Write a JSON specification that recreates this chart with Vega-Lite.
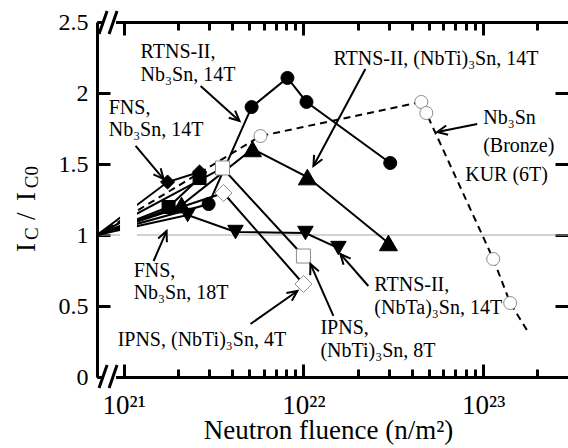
{
  "$schema": "https://vega.github.io/schema/vega-lite/v6.json",
  "width": 471,
  "height": 355,
  "autosize": {"type": "none"},
  "padding": {"left": 97, "top": 22, "right": 0, "bottom": 71},
  "config": {
    "view": {"stroke": null},
    "font": "Liberation Serif",
    "axis": {"grid": false, "domainColor": "black", "tickColor": "black", "domainWidth": 3, "tickWidth": 3, "labelFont": "Liberation Serif", "titleFont": "Liberation Serif", "labelColor": "black", "titleColor": "black", "titleFontWeight": "normal"},
    "text": {"font": "Liberation Serif"}
  },
  "datasets": {
    "series": [
      {"s": "RTNS-II Nb3Sn 14T", "x": 7.11e20, "y": 1, "m": false},
      {"s": "RTNS-II Nb3Sn 14T", "x": 2.97e21, "y": 1.218, "m": true},
      {"s": "RTNS-II Nb3Sn 14T", "x": 5.15e21, "y": 1.901, "m": true},
      {"s": "RTNS-II Nb3Sn 14T", "x": 8.15e21, "y": 2.106, "m": true},
      {"s": "RTNS-II Nb3Sn 14T", "x": 1.04e22, "y": 1.937, "m": true},
      {"s": "RTNS-II Nb3Sn 14T", "x": 3.04e22, "y": 1.507, "m": true},
      {"s": "RTNS-II (NbTi)3Sn 14T", "x": 7.11e20, "y": 1, "m": false},
      {"s": "RTNS-II (NbTi)3Sn 14T", "x": 2.10e21, "y": 1.211, "m": true},
      {"s": "RTNS-II (NbTi)3Sn 14T", "x": 5.21e21, "y": 1.606, "m": true},
      {"s": "RTNS-II (NbTi)3Sn 14T", "x": 1.052e22, "y": 1.408, "m": true},
      {"s": "RTNS-II (NbTi)3Sn 14T", "x": 2.97e22, "y": 0.944, "m": true},
      {"s": "RTNS-II (NbTa)3Sn 14T", "x": 7.11e20, "y": 1, "m": false},
      {"s": "RTNS-II (NbTa)3Sn 14T", "x": 2.27e21, "y": 1.141, "m": true},
      {"s": "RTNS-II (NbTa)3Sn 14T", "x": 4.19e21, "y": 1.021, "m": true},
      {"s": "RTNS-II (NbTa)3Sn 14T", "x": 1.026e22, "y": 1.014, "m": true},
      {"s": "RTNS-II (NbTa)3Sn 14T", "x": 1.565e22, "y": 0.908, "m": true},
      {"s": "FNS Nb3Sn 14T", "x": 7.11e20, "y": 1, "m": false},
      {"s": "FNS Nb3Sn 14T", "x": 1.755e21, "y": 1.373, "m": true},
      {"s": "FNS Nb3Sn 14T", "x": 2.644e21, "y": 1.444, "m": true},
      {"s": "FNS Nb3Sn 18T", "x": 7.11e20, "y": 1, "m": false},
      {"s": "FNS Nb3Sn 18T", "x": 1.778e21, "y": 1.197, "m": true},
      {"s": "FNS Nb3Sn 18T", "x": 2.644e21, "y": 1.401, "m": true},
      {"s": "IPNS (NbTi)3Sn 8T", "x": 7.11e20, "y": 1, "m": false},
      {"s": "IPNS (NbTi)3Sn 8T", "x": 3.548e21, "y": 1.472, "m": true},
      {"s": "IPNS (NbTi)3Sn 8T", "x": 1.0e22, "y": 0.852, "m": true},
      {"s": "IPNS (NbTi)3Sn 4T", "x": 7.11e20, "y": 1, "m": false},
      {"s": "IPNS (NbTi)3Sn 4T", "x": 3.594e21, "y": 1.296, "m": true},
      {"s": "IPNS (NbTi)3Sn 4T", "x": 1.0e22, "y": 0.655, "m": true},
      {"s": "KUR Nb3Sn Bronze 6T", "x": 7.11e20, "y": 1, "m": false},
      {"s": "KUR Nb3Sn Bronze 6T", "x": 5.77e21, "y": 1.697, "m": true},
      {"s": "KUR Nb3Sn Bronze 6T", "x": 4.526e22, "y": 1.937, "m": true},
      {"s": "KUR Nb3Sn Bronze 6T", "x": 4.825e22, "y": 1.859, "m": true},
      {"s": "KUR Nb3Sn Bronze 6T", "x": 1.137e23, "y": 0.831, "m": true},
      {"s": "KUR Nb3Sn Bronze 6T", "x": 1.413e23, "y": 0.521, "m": true},
      {"s": "KUR Nb3Sn Bronze 6T", "x": 1.778e23, "y": 0.317, "m": false}
    ],
    "gaps": [
      {"x": 9.55e20, "x2": 1.187e21, "y": 0.9, "y2": 1.45},
      {"x": 7.59e20, "x2": 9.07e20, "y": -0.04, "y2": 0.04},
      {"x": 7.59e20, "x2": 9.07e20, "y": 2.46, "y2": 2.54}
    ],
    "breaks": [
      {"x": 7.30e20, "y": -0.0775, "x2": 8.09e20, "y2": 0.0845},
      {"x": 8.30e20, "y": -0.0775, "x2": 9.19e20, "y2": 0.0845},
      {"x": 7.30e20, "y": 2.415, "x2": 8.09e20, "y2": 2.577},
      {"x": 8.30e20, "y": 2.415, "x2": 9.19e20, "y2": 2.577}
    ],
    "arrows": [
      {"id": "a", "x": 2.68e21, "y": 2.049, "xe": 4.41e21, "ye": 1.803},
      {"id": "b", "x": 1.166e21, "y": 1.627, "xe": 1.668e21, "ye": 1.394},
      {"id": "c", "x": 2.211e22, "y": 2.169, "xe": 1.137e22, "ye": 1.486},
      {"id": "d", "x": 9.26e22, "y": 1.782, "xe": 5.55e22, "ye": 1.725},
      {"id": "e", "x": 1.468e21, "y": 0.817, "xe": 1.733e21, "ye": 1.028},
      {"id": "f", "x": 5.076e21, "y": 0.373, "xe": 9.26e21, "ye": 0.606},
      {"id": "g", "x": 1.468e22, "y": 0.43, "xe": 1.094e22, "ye": 0.796},
      {"id": "h", "x": 2.297e22, "y": 0.641, "xe": 1.606e22, "ye": 0.866}
    ],
    "notes": [
      {"x": 1.243e21, "y": 2.246, "t": "RTNS-II,"},
      {"x": 1.243e21, "y": 2.085, "t": "Nb₃Sn, 14T"},
      {"x": 8.26e20, "y": 1.852, "t": "FNS,"},
      {"x": 8.26e20, "y": 1.697, "t": "Nb₃Sn, 14T"},
      {"x": 1.468e22, "y": 2.197, "t": "RTNS-II, (NbTi)₃Sn, 14T"},
      {"x": 1.0e23, "y": 1.782, "t": "Nb₃Sn"},
      {"x": 1.0e23, "y": 1.585, "t": "(Bronze)"},
      {"x": 7.94e22, "y": 1.38, "t": "KUR (6T)"},
      {"x": 1.137e21, "y": 0.704, "t": "FNS,"},
      {"x": 1.137e21, "y": 0.549, "t": "Nb₃Sn, 18T"},
      {"x": 9.26e20, "y": 0.218, "t": "IPNS, (NbTi)₃Sn, 4T"},
      {"x": 1.243e22, "y": 0.303, "t": "IPNS,"},
      {"x": 1.243e22, "y": 0.141, "t": "(NbTi)₃Sn, 8T"},
      {"x": 2.48e22, "y": 0.606, "t": "RTNS-II,"},
      {"x": 2.48e22, "y": 0.444, "t": "(NbTa)₃Sn, 14T"}
    ],
    "ytitle": [
      {"t": "I", "x": 3.21e20, "y": 0.88, "sub": false},
      {"t": "C", "x": 3.33e20, "y": 0.965, "sub": true},
      {"t": "/", "x": 3.21e20, "y": 1.105, "sub": false},
      {"t": "I", "x": 3.21e20, "y": 1.239, "sub": false},
      {"t": "C0", "x": 3.33e20, "y": 1.33, "sub": true}
    ]
  },
  "resolve": {"axis": {"x": "independent", "y": "independent"}, "scale": {"shape": "independent", "size": "independent", "fill": "independent", "stroke": "independent"}},
  "layer": [
    {
      "data": {"values": [{}]},
      "mark": {"type": "rule", "color": "#a6a6a6", "strokeWidth": 1},
      "encoding": {
        "y": {"datum": 1, "type": "quantitative", "scale": {"domain": [0, 2.5], "nice": false, "zero": false}, "axis": null}
      }
    },
    {
      "data": {"name": "series"},
      "transform": [{"filter": "datum.s != 'KUR Nb3Sn Bronze 6T'"}],
      "mark": {"type": "line", "color": "black", "strokeWidth": 2},
      "encoding": {
        "x": {"field": "x", "type": "quantitative", "scale": {"type": "log", "domain": [7.11e20, 2.962e23], "nice": false},
          "axis": {"orient": "bottom", "values": [1e21, 1e22, 1e23], "tickSize": -13, "labelPadding": 49, "labelBaseline": "alphabetic", "labelFontSize": 27, "labelFlush": false, "labelOverlap": false,
            "labelExpr": "'10' + (datum.value < 5e21 ? '²¹' : (datum.value < 5e22 ? '²²' : '²³'))",
            "title": "Neutron fluence (n/m²)", "titleFontSize": 27, "titleX": 231, "titleY": 61, "titleAlign": "center", "titleBaseline": "alphabetic"}},
        "y": {"field": "y", "type": "quantitative", "scale": {"domain": [0, 2.5], "nice": false, "zero": false},
          "axis": {"orient": "left", "values": [0, 0.5, 1, 1.5, 2, 2.5], "format": ".1~f", "tickSize": -13, "labelPadding": 22, "labelFontSize": 24, "title": null}},
        "detail": {"field": "s"}
      }
    },
    {
      "data": {"name": "series"},
      "transform": [{"filter": "datum.s == 'KUR Nb3Sn Bronze 6T'"}],
      "mark": {"type": "line", "color": "black", "strokeWidth": 2, "strokeDash": [7, 5]},
      "encoding": {
        "x": {"field": "x", "type": "quantitative", "scale": {"type": "log", "domain": [7.11e20, 2.962e23], "nice": false},
          "axis": {"orient": "bottom", "values": [2e21, 3e21, 4e21, 5e21, 6e21, 7e21, 8e21, 9e21, 2e22, 3e22, 4e22, 5e22, 6e22, 7e22, 8e22, 9e22, 2e23], "tickSize": -8, "labels": false, "domain": false, "title": null}},
        "y": {"field": "y", "type": "quantitative", "scale": {"domain": [0, 2.5], "nice": false, "zero": false},
          "axis": {"orient": "right", "values": [0.5, 1, 1.5, 2], "tickSize": -13, "labels": false, "domain": false, "title": null}}
      }
    },
    {
      "data": {"name": "gaps"},
      "mark": {"type": "rect", "color": "white"},
      "encoding": {
        "x": {"field": "x", "type": "quantitative", "scale": {"type": "log", "domain": [7.11e20, 2.962e23], "nice": false}, "axis": null},
        "x2": {"field": "x2"},
        "y": {"field": "y", "type": "quantitative", "scale": {"domain": [0, 2.5], "nice": false, "zero": false}, "axis": null},
        "y2": {"field": "y2"}
      }
    },
    {
      "data": {"name": "breaks"},
      "mark": {"type": "rule", "color": "black", "strokeWidth": 3},
      "encoding": {
        "x": {"field": "x", "type": "quantitative", "scale": {"type": "log", "domain": [7.11e20, 2.962e23], "nice": false}, "axis": null},
        "x2": {"field": "x2"},
        "y": {"field": "y", "type": "quantitative", "scale": {"domain": [0, 2.5], "nice": false, "zero": false}, "axis": null},
        "y2": {"field": "y2"}
      }
    },
    {
      "data": {"name": "series"},
      "transform": [{"filter": "datum.m"}],
      "mark": {"type": "point", "filled": true, "opacity": 1, "strokeWidth": 1},
      "encoding": {
        "x": {"field": "x", "type": "quantitative", "scale": {"type": "log", "domain": [7.11e20, 2.962e23], "nice": false},
          "axis": {"orient": "top", "values": [1e21, 1e22, 1e23], "tickSize": -13, "labels": false, "domain": true, "title": null}},
        "y": {"field": "y", "type": "quantitative", "scale": {"domain": [0, 2.5], "nice": false, "zero": false}, "axis": null},
        "shape": {"field": "s", "type": "nominal", "legend": null, "scale": {
          "domain": ["RTNS-II Nb3Sn 14T", "RTNS-II (NbTi)3Sn 14T", "RTNS-II (NbTa)3Sn 14T", "FNS Nb3Sn 14T", "FNS Nb3Sn 18T", "IPNS (NbTi)3Sn 8T", "IPNS (NbTi)3Sn 4T", "KUR Nb3Sn Bronze 6T"],
          "range": ["circle", "triangle-up", "triangle-down", "diamond", "square", "square", "diamond", "circle"]}},
        "fill": {"field": "s", "type": "nominal", "legend": null, "scale": {
          "domain": ["RTNS-II Nb3Sn 14T", "RTNS-II (NbTi)3Sn 14T", "RTNS-II (NbTa)3Sn 14T", "FNS Nb3Sn 14T", "FNS Nb3Sn 18T", "IPNS (NbTi)3Sn 8T", "IPNS (NbTi)3Sn 4T", "KUR Nb3Sn Bronze 6T"],
          "range": ["black", "black", "black", "black", "black", "white", "white", "white"]}},
        "stroke": {"field": "s", "type": "nominal", "legend": null, "scale": {
          "domain": ["RTNS-II Nb3Sn 14T", "RTNS-II (NbTi)3Sn 14T", "RTNS-II (NbTa)3Sn 14T", "FNS Nb3Sn 14T", "FNS Nb3Sn 18T", "IPNS (NbTi)3Sn 8T", "IPNS (NbTi)3Sn 4T", "KUR Nb3Sn Bronze 6T"],
          "range": ["black", "black", "black", "black", "black", "#8c8c8c", "#8c8c8c", "#8c8c8c"]}},
        "size": {"field": "s", "type": "nominal", "legend": null, "scale": {"type": "ordinal",
          "domain": ["RTNS-II Nb3Sn 14T", "RTNS-II (NbTi)3Sn 14T", "RTNS-II (NbTa)3Sn 14T", "FNS Nb3Sn 14T", "FNS Nb3Sn 18T", "IPNS (NbTi)3Sn 8T", "IPNS (NbTi)3Sn 4T", "KUR Nb3Sn Bronze 6T"],
          "range": [169, 324, 240, 200, 169, 196, 289, 169]}}
      }
    },
    {
      "data": {"name": "arrows"},
      "mark": {"type": "rule", "color": "black", "strokeWidth": 2},
      "encoding": {
        "x": {"field": "x", "type": "quantitative", "scale": {"type": "log", "domain": [7.11e20, 2.962e23], "nice": false},
          "axis": {"orient": "top", "values": [2e21, 3e21, 4e21, 5e21, 6e21, 7e21, 8e21, 9e21, 2e22, 3e22, 4e22, 5e22, 6e22, 7e22, 8e22, 9e22, 2e23], "tickSize": -8, "labels": false, "domain": false, "title": null}},
        "x2": {"field": "xe"},
        "y": {"field": "y", "type": "quantitative", "scale": {"domain": [0, 2.5], "nice": false, "zero": false}, "axis": null},
        "y2": {"field": "ye"}
      }
    },
    {
      "data": {"name": "arrows"},
      "mark": {"type": "point", "filled": false, "color": "black", "strokeWidth": 2, "size": 500, "opacity": 1},
      "encoding": {
        "x": {"field": "xe", "type": "quantitative", "scale": {"type": "log", "domain": [7.11e20, 2.962e23], "nice": false}, "axis": null},
        "y": {"field": "ye", "type": "quantitative", "scale": {"domain": [0, 2.5], "nice": false, "zero": false}, "axis": null},
        "shape": {"field": "id", "type": "nominal", "legend": null, "scale": {
          "domain": ["a", "b", "c", "d", "e", "f", "g", "h"],
          "range": [
            "M-0.957,-0.291L0,0L-0.392,-0.919",
            "M-0.909,-0.418L0,0L-0.264,-0.965",
            "M0.056,-0.998L0,0L0.801,-0.599",
            "M0.806,-0.592L0,0L0.972,0.237",
            "M0.028,1L0,0L-0.748,0.664",
            "M-0.498,0.867L0,0L-0.985,0.175",
            "M0.754,0.657L0,0L-0.019,1",
            "M0.915,0.404L0,0L0.279,0.96"
          ]}}
      }
    },
    {
      "data": {"name": "notes"},
      "mark": {"type": "text", "align": "left", "baseline": "alphabetic", "fontSize": 20, "color": "black", "font": "Liberation Serif"},
      "encoding": {
        "x": {"field": "x", "type": "quantitative", "scale": {"type": "log", "domain": [7.11e20, 2.962e23], "nice": false}, "axis": null},
        "y": {"field": "y", "type": "quantitative", "scale": {"domain": [0, 2.5], "nice": false, "zero": false}, "axis": null},
        "text": {"field": "t"}
      }
    },
    {
      "data": {"name": "ytitle"},
      "transform": [{"filter": "!datum.sub"}],
      "mark": {"type": "text", "align": "left", "baseline": "alphabetic", "fontSize": 27, "angle": 270, "color": "black", "font": "Liberation Serif"},
      "encoding": {
        "x": {"field": "x", "type": "quantitative", "scale": {"type": "log", "domain": [7.11e20, 2.962e23], "nice": false}, "axis": null},
        "y": {"field": "y", "type": "quantitative", "scale": {"domain": [0, 2.5], "nice": false, "zero": false}, "axis": null},
        "text": {"field": "t"}
      }
    },
    {
      "data": {"name": "ytitle"},
      "transform": [{"filter": "datum.sub"}],
      "mark": {"type": "text", "align": "left", "baseline": "alphabetic", "fontSize": 19, "angle": 270, "color": "black", "font": "Liberation Serif"},
      "encoding": {
        "x": {"field": "x", "type": "quantitative", "scale": {"type": "log", "domain": [7.11e20, 2.962e23], "nice": false}, "axis": null},
        "y": {"field": "y", "type": "quantitative", "scale": {"domain": [0, 2.5], "nice": false, "zero": false}, "axis": null},
        "text": {"field": "t"}
      }
    }
  ]
}
